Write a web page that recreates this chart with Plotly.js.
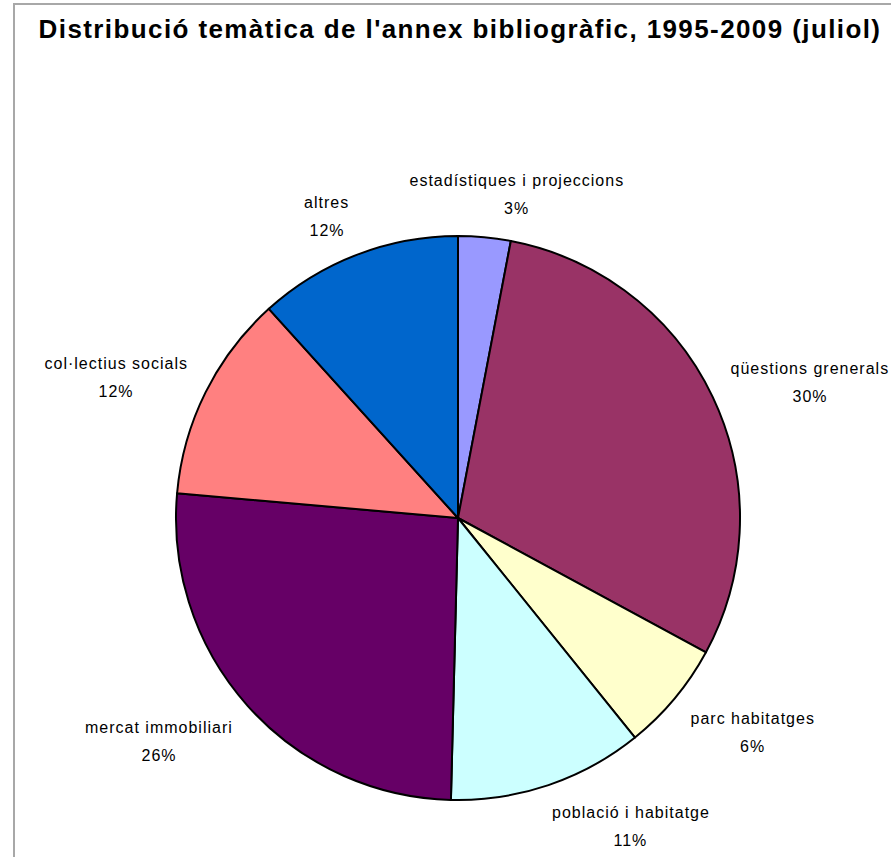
<!DOCTYPE html>
<html>
<head>
<meta charset="utf-8">
<script src="https://cdn.plot.ly/plotly-3.0.1.min.js"></script>
<style>
html,body{margin:0;padding:0;overflow:hidden;background:#fff;}
#wrap{position:relative;width:891px;height:857px;}
#chart{position:absolute;left:0;top:0;width:891px;height:857px;}
#frame{position:absolute;left:13px;top:3px;width:900px;height:900px;border:2px solid #a8a8a8;pointer-events:none;box-sizing:border-box;}
#chart .gtitle{letter-spacing:1.4px;}
#chart .annotation-text{letter-spacing:1px;}
</style>
</head>
<body>
<div id="wrap"><div id="chart"></div><div id="frame"></div></div>
<script>
const categories = ["estadístiques i projeccions","qüestions grenerals","parc habitatges","població i habitatge","mercat immobiliari","col·lectius socials","altres"];
const values = [3.0, 29.9, 6.3, 11.2, 26.0, 11.9, 11.7];
const colors = ["#9999FF","#993366","#FFFFCC","#CCFFFF","#660066","#FF8080","#0066CC"];

const W = 891, H = 857;
const margin = {l:176, r:151, t:236, b:57};
const plotW = W - margin.l - margin.r, plotH = H - margin.t - margin.b;
const R = Math.min(plotW, plotH) / 2;
const cx = margin.l + plotW / 2, cy = margin.t + plotH / 2;

const labelFont = "Liberation Sans, Arial, sans-serif";
const labelSize = 16;
const canvas = document.createElement("canvas");
const ctx = canvas.getContext("2d");
ctx.font = labelSize + "px 'Liberation Sans', Arial, sans-serif";

const total = values.reduce((a,b)=>a+b,0);
const annotations = [];
let cum = 0;
const clamp = (v,a,b)=>Math.max(a,Math.min(b,v));
values.forEach((v,i)=>{
  const mid = (cum + v/2) / total * 2 * Math.PI;
  cum += v;
  const s = Math.sin(mid), c = Math.cos(mid);
  const d = R + 20;
  const px = cx + d * s, py = cy - d * c;
  const pct = Math.round(v / total * 100) + "%";
  const w = Math.max(ctx.measureText(categories[i]).width + categories[i].length, ctx.measureText(pct).width);
  const h = 45;
  const fx = clamp(0.5 - 1.5 * s, 0, 1);
  const fy = c >= 0 ? clamp(0.5 + 0.5 * Math.pow(c, 1.6), 0, 1) : clamp(0.5 - 0.75 * Math.abs(c), 0, 1);
  const bx = px + (0.5 - fx) * w;
  const by = py + (0.5 - fy) * h;
  const toX = x => (x - margin.l) / plotW;
  const toY = y => (H - margin.b - y) / plotH;
  annotations.push({text: categories[i], xref:"paper", yref:"paper", x: toX(bx), y: toY(by - 14), xanchor:"center", yanchor:"middle", showarrow:false, font:{family:labelFont, size:labelSize, color:"#000"}});
  annotations.push({text: pct, xref:"paper", yref:"paper", x: toX(bx), y: toY(by + 14), xanchor:"center", yanchor:"middle", showarrow:false, font:{family:labelFont, size:labelSize, color:"#000"}});
});

const data = [{
  type: "pie",
  labels: categories,
  values: values,
  sort: false,
  direction: "clockwise",
  rotation: 0,
  marker: {colors: colors, line: {color: "#000", width: 2}},
  textinfo: "none",
  hoverinfo: "label+percent",
  showlegend: false
}];

const layout = {
  width: W, height: H,
  margin: margin,
  paper_bgcolor: "#fff",
  title: {text: "<b>Distribució temàtica de l'annex bibliogràfic, 1995-2009 (juliol)</b>", x: 460/W, xref: "container", xanchor: "center", y: 1 - 29/H, yref: "container", yanchor: "middle", font: {family: "Liberation Sans, Arial, sans-serif", size: 26, color: "#000"}},
  annotations: annotations,
  showlegend: false
};

Plotly.newPlot("chart", data, layout, {displayModeBar: false, staticPlot: true});
</script>
</body>
</html>
